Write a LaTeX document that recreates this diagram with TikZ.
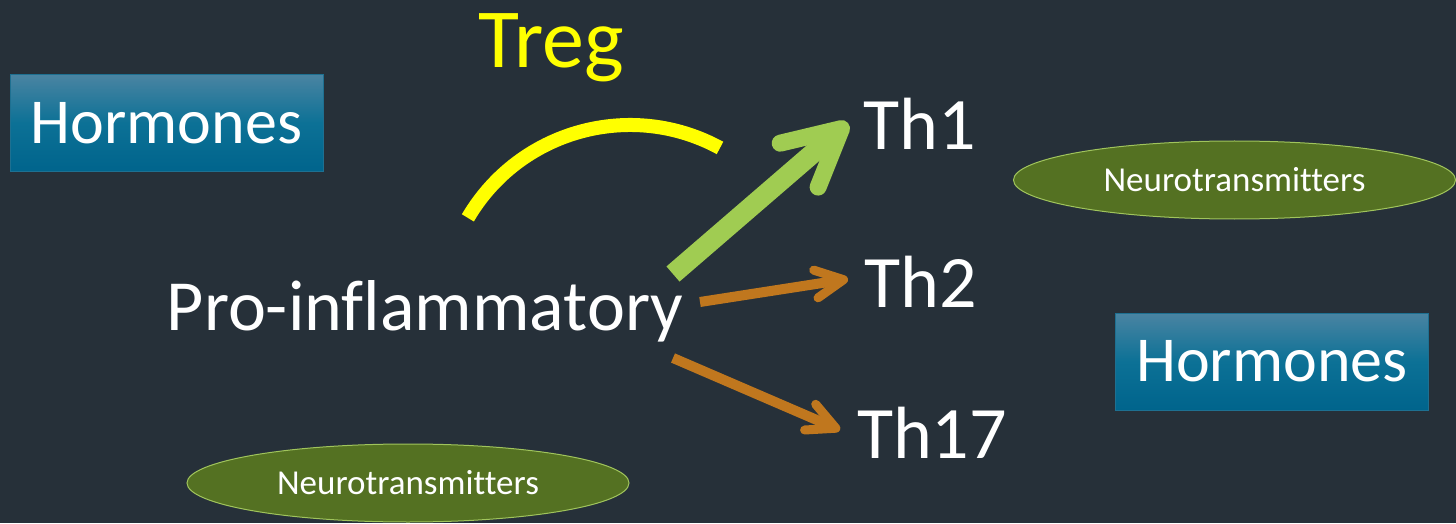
\documentclass[tikz,border=0pt]{standalone}
\usepackage{fontspec}
\setmainfont{Carlito}[Ligatures=NoCommon]
\usetikzlibrary{arrows.meta,shapes.geometric}
\definecolor{bg}{HTML}{263039}
\definecolor{hormtop}{RGB}{74,132,162}
\definecolor{hormmid}{RGB}{12,113,150}
\definecolor{hormbot}{RGB}{0,100,140}
\definecolor{hormline}{RGB}{30,112,145}
\definecolor{neurofill}{RGB}{84,113,34}
\definecolor{neuroline}{RGB}{160,196,92}
\definecolor{thgreen}{RGB}{160,204,82}
\definecolor{thorange}{RGB}{192,119,30}
\definecolor{tregyellow}{RGB}{255,255,0}
\tikzset{
  hormbox/.style={rectangle, draw=hormline, line width=1pt, top color=hormtop, bottom color=hormbot, middle color=hormmid,
    minimum width=313pt, minimum height=97pt, inner sep=0pt, text=white, font=\fontsize{64}{70}\selectfont},
  neurobox/.style={ellipse, draw=neuroline, line width=1pt, fill=neurofill, minimum width=442pt, minimum height=78pt,
    inner sep=0pt, text=white, font=\fontsize{35}{40}\selectfont},
  bigtext/.style={text=white, inner sep=0pt, anchor=base, font=\fontsize{74}{80}\selectfont},
  greenarrow/.style={draw=thgreen, line width=20pt, -{Straight Barb[length=56pt, width=58pt, line width=17pt, round]}},
  orangearrow/.style={draw=thorange, line width=10pt, -{Straight Barb[length=28pt, width=28pt, line width=9pt, round]}},
}
\begin{document}
\begin{tikzpicture}[x=1pt,y=1pt]
\fill[bg] (0,0) rectangle (1456,523);
\useasboundingbox (0,0) rectangle (1456,523);

\node[hormbox] (h1) at (166.5,400) {Hormones};
\node[hormbox] (h2) at (1272,161.5) {Hormones};
\node[neurobox] (n1) at (1234.5,343) {Neurotransmitters};
\node[neurobox] (n2) at (408,40) {Neurotransmitters};

\node[bigtext, font=\fontsize{72}{78}\selectfont] (pro) at (425,193) {Pro-inflammatory};
\node[bigtext, text=tregyellow, font=\fontsize{84}{90}\selectfont] (treg) at (551.5,455) {Treg};
\node[bigtext] (th1) at (920,373) {Th1};
\node[bigtext] (th2) at (921,216) {Th2};
\node[bigtext] (th17) at (932,65) {Th17};

\coordinate (gs) at (673,249);
\coordinate (ge) at (848,400);
\coordinate (o1s) at (700,221);
\coordinate (o1e) at (848,244);
\coordinate (o2s) at (673,165);
\coordinate (o2e) at (840,93);

\draw[greenarrow] (gs) -- (ge);
\draw[orangearrow] (o1s) -- (o1e);
\draw[orangearrow] (o2s) -- (o2e);

\coordinate (arcc) at (630,210);
\draw[tregyellow, line width=14pt] ([shift={(149.6:188)}]arcc) arc[start angle=149.6, end angle=61.4, radius=188];
\end{tikzpicture}
\end{document}
